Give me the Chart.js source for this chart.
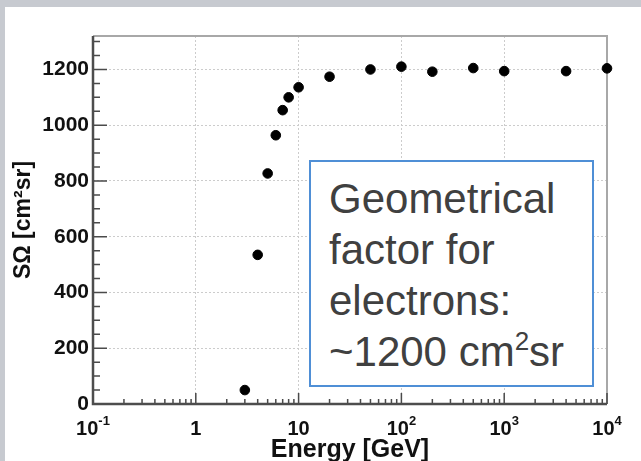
<!DOCTYPE html>
<html>
<head>
<meta charset="utf-8">
<script src="https://cdn.jsdelivr.net/npm/chart.js@4.4.1/dist/chart.umd.min.js"></script>
<style>
    html, body { margin: 0; padding: 0; }
    body { width: 641px; height: 461px; background: #c7cad0; position: relative; overflow: hidden; }
    #panel { position: absolute; left: 5px; top: 7px; right: 0; bottom: 0; background: #fff; }
    #chart { position: absolute; left: 0; top: 0; }
    #note {
        position: absolute; left: 309px; top: 160px; width: 285px; height: 227px;
        box-sizing: border-box; border: 2px solid #4f8fd6; background: #fff;
        padding: 11px 0 0 18px;
        font-family: 'Liberation Sans', Arial, sans-serif; font-size: 42px; line-height: 51px; color: #404040;
    }
    #note sup { font-size: 26px; vertical-align: 16px; line-height: 0; }
</style>
</head>
<body>
<div id="panel"></div>
<canvas id="chart" width="641" height="461"></canvas>
<div id="note">Geometrical<br>factor for<br>electrons:<br>~1200 cm<sup>2</sup>sr</div>
<script>
// Data
const energyGeV = [3, 4, 5, 6, 7, 8, 10, 20, 50, 100, 200, 500, 1000, 4000, 10000];
const geomFactor = [50, 535, 827, 964, 1054, 1100, 1136, 1174, 1200, 1210, 1192, 1205, 1194, 1194, 1204];
const xTicks = [0.1, 1, 10, 100, 1000, 10000];
const xTickBase = ['10', '1', '10', '10', '10', '10'];
const xTickExp = ['-1', '', '', '2', '3', '4'];
const yTicks = [0, 200, 400, 600, 800, 1000, 1200];

// Plot frame edges (page pixels)
const AREA = { left: 93, top: 36, right: 607, bottom: 404 };
const FONT = "'Liberation Sans', Arial, Helvetica, sans-serif";

// ROOT-style frame with inside ticks, and x labels with real exponents
const rootFrame = {
    id: 'rootFrame',
    beforeDatasetsDraw(chart) {
        const { ctx, chartArea: a, scales: { x, y } } = chart;
        ctx.save();

        // light top and right edges
        ctx.strokeStyle = '#a8a8a8';
        ctx.lineWidth = 2;
        ctx.beginPath();
        ctx.moveTo(a.left, a.top);
        ctx.lineTo(a.right, a.top);
        ctx.lineTo(a.right, a.bottom);
        ctx.stroke();

        // ticks
        ctx.strokeStyle = '#4a4a4a';
        ctx.lineWidth = 1.5;
        ctx.beginPath();
        for (let v = 50; v < y.max; v += 50) {
            const py = y.getPixelForValue(v);
            const len = v % 200 === 0 ? 14 : 7;
            ctx.moveTo(a.left, py);
            ctx.lineTo(a.left + len, py);
        }
        xTicks.forEach((d, i) => {
            const px = x.getPixelForValue(d);
            ctx.moveTo(px, a.bottom);
            ctx.lineTo(px, a.bottom - 11);
            if (i === xTicks.length - 1) return;
            for (let m = 2; m <= 9; m++) {
                const mx = x.getPixelForValue(d * m);
                ctx.moveTo(mx, a.bottom);
                ctx.lineTo(mx, a.bottom - 5);
            }
        });
        ctx.stroke();

        // dark left and bottom axes
        ctx.strokeStyle = '#4d4d4d';
        ctx.lineWidth = 2.5;
        ctx.beginPath();
        ctx.moveTo(a.left, a.top);
        ctx.lineTo(a.left, a.bottom);
        ctx.lineTo(a.right, a.bottom);
        ctx.stroke();
        ctx.restore();
    },
    afterDraw(chart) {
        const { ctx, chartArea: a, scales: { x } } = chart;
        const baseFont = 'bold 20px ' + FONT;
        const expFont = 'bold 13px ' + FONT;
        const baseline = a.bottom + 31;
        ctx.save();
        ctx.fillStyle = '#111';
        ctx.textBaseline = 'alphabetic';
        ctx.textAlign = 'left';
        xTicks.forEach((v, i) => {
            ctx.font = baseFont;
            const wb = ctx.measureText(xTickBase[i]).width;
            ctx.font = expFont;
            const we = xTickExp[i] ? ctx.measureText(xTickExp[i]).width : 0;
            const x0 = x.getPixelForValue(v) - (wb + we) / 2;
            ctx.font = baseFont;
            ctx.fillText(xTickBase[i], x0, baseline);
            if (we) {
                ctx.font = expFont;
                ctx.fillText(xTickExp[i], x0 + wb, baseline - 10);
            }
        });
        ctx.restore();
    }
};

new Chart(document.getElementById('chart'), {
    type: 'scatter',
    data: {
        datasets: [{
            data: energyGeV.map((e, i) => ({ x: e, y: geomFactor[i] })),
            backgroundColor: '#000',
            borderColor: '#000',
            pointRadius: 4.8,
            pointHoverRadius: 4.8,
            clip: false
        }]
    },
    options: {
        responsive: false,
        animation: false,
        events: [],
        layout: { padding: { left: 0, top: AREA.top, right: 641 - AREA.right, bottom: 0 } },
        plugins: { legend: { display: false }, tooltip: { enabled: false } },
        scales: {
            x: {
                type: 'logarithmic',
                min: 0.1,
                max: 10000,
                afterBuildTicks: s => { s.ticks = xTicks.map(v => ({ value: v })); },
                afterFit: s => { s.height = 461 - AREA.bottom; },
                ticks: { display: false },
                grid: { color: '#cccccc', lineWidth: 1, drawTicks: false },
                border: { display: false, dash: [2, 2] },
                title: {
                    display: true,
                    text: 'Energy [GeV]',
                    color: '#111',
                    font: { family: FONT, size: 25, weight: 'bold' },
                    padding: { top: 0, bottom: -4 }
                }
            },
            y: {
                min: 0,
                max: 1320,
                afterBuildTicks: s => { s.ticks = yTicks.map(v => ({ value: v })); },
                afterFit: s => { s.width = AREA.left; },
                ticks: {
                    padding: 4,
                    color: '#111',
                    font: { family: FONT, size: 21, weight: 'bold' },
                    callback: v => String(v)
                },
                grid: { color: '#cccccc', lineWidth: 1, drawTicks: false },
                border: { display: false, dash: [2, 2] },
                title: {
                    display: true,
                    text: 'SΩ [cm²sr]',
                    color: '#111',
                    font: { family: FONT, size: 23, weight: 'bold' },
                    padding: { top: 10, bottom: 0 }
                }
            }
        }
    },
    plugins: [rootFrame]
});
</script>
</body>
</html>
